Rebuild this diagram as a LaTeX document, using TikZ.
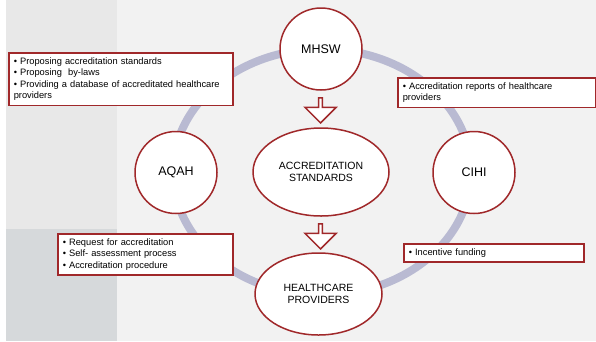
\documentclass[tikz,border=0pt]{standalone}
\usepackage{fontspec}
\setmainfont{Liberation Sans}
\usetikzlibrary{shapes.arrows,shapes.geometric}
\definecolor{dred}{HTML}{A0282A}
\definecolor{ring}{HTML}{B9BAD2}
\definecolor{bgmain}{HTML}{F2F2F2}
\definecolor{bgup}{HTML}{E8E8E8}
\definecolor{bglow}{HTML}{D6D9DB}
\tikzset{
  actor/.style={circle, draw=dred, line width=1.5pt, fill=white, minimum size=82pt, inner sep=0pt, font=\fontsize{12.5}{14}\selectfont},
  oval/.style={ellipse, draw=dred, line width=1.5pt, fill=white, inner sep=0pt, font=\fontsize{10.5}{12.5}\selectfont, align=center},
  infobox/.style={draw=dred, line width=1.5pt, fill=white, anchor=north west, align=left, inner xsep=5pt, inner ysep=4.7pt, font=\fontsize{9.3}{11.6}\selectfont},
  downarrow/.style={single arrow, shape border rotate=270, draw=dred, line width=1.5pt, fill=white, minimum height=25pt, minimum width=31pt, single arrow head extend=5.5pt, inner sep=0pt}
}
\begin{document}
\begin{tikzpicture}[x=1pt,y=-1pt]
\useasboundingbox (0,0) rectangle (596,341);
\fill[white] (0,0) rectangle (596,341);
\fill[bgmain] (6,0) rectangle (596,341);
\fill[bgup] (6,0) rectangle (117,229);
\fill[bglow] (6,229) rectangle (117,341);
% ring
\draw[ring, line width=8pt] (322,172) ellipse [x radius=149, y radius=123];
% nodes
\node[actor] (mhsw) at (321,49) {MHSW};
\node[actor] (aqah) at (176,172.5) {AQAH};
\node[actor] (cihi) at (474,172.5) {CIHI};
\node[oval, minimum width=136pt, minimum height=88pt] (std) at (321,172) {ACCREDITATION\\STANDARDS};
\node[oval, minimum width=127pt, minimum height=82pt] (hcp) at (318.5,294) {HEALTHCARE\\PROVIDERS};
% arrows
\node[downarrow] (a1) at (320.5,109.5) {};
\node[downarrow] (a2) at (320.5,235.5) {};
% boxes
\node[infobox, text width=214pt] (b1) at (8,52) {• Proposing accreditation standards\\• Proposing\ \ by-laws\\• Providing a database of accreditated healthcare\\providers};
\node[infobox, text width=188pt] (b2) at (397,77) {• Accreditation reports of healthcare\\providers};
\node[infobox, text width=165pt] (b3) at (57,233) {• Request for accreditation\\• Self- assessment process\\• Accreditation procedure};
\node[infobox, text width=170pt] (b4) at (403,243) {• Incentive funding};
\end{tikzpicture}
\end{document}
